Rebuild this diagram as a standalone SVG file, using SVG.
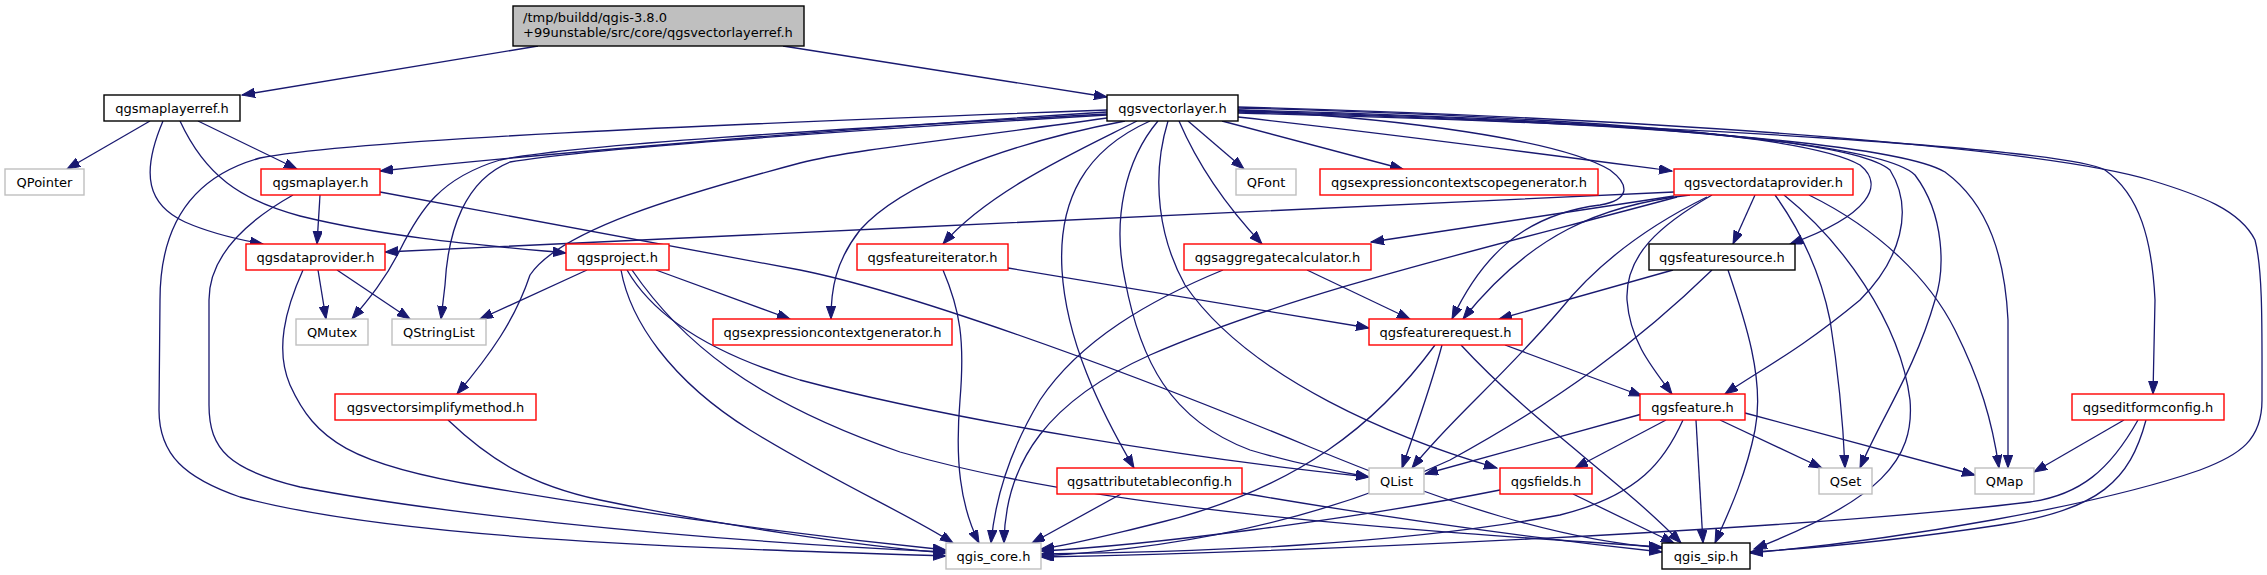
<svg xmlns="http://www.w3.org/2000/svg" width="2267" height="575" viewBox="0 0 2267 575">
<defs>
<marker id="ah" markerUnits="userSpaceOnUse" markerWidth="14" markerHeight="10" refX="13" refY="4.7" orient="auto">
<path d="M0,0 L13,4.7 L0,9.4 z" fill="#191970" stroke="#191970" stroke-width="1"/>
</marker>
</defs>
<style>
.n rect{fill:#fff;stroke-width:1.4}
.b rect{stroke:#000}
.r rect{stroke:#ff0000}
.g rect{stroke:#bfbfbf}
.rt rect{fill:#bfbfbf;stroke:#000}
text{font-family:"DejaVu Sans",Verdana,sans-serif;font-size:13px;fill:#000;text-anchor:middle}
.rt text{text-anchor:start}
#edges path{fill:none;stroke:#191970;stroke-width:1.3;marker-end:url(#ah)}
</style>
<rect width="2267" height="575" fill="#fff"/>
<g id="edges">
<path d="M538,46 L242,95"/>
<path d="M783,46 L1107,97"/>
<path d="M150,121 L67,169"/>
<path d="M198,121 L297,169"/>
<path d="M163,121 C140,175 148,205 185,222 C210,233 235,239 263,244"/>
<path d="M180,121 C205,175 240,200 300,216 C390,238 480,245 566,253"/>
<path d="M320,195 L317,244"/>
<path d="M293,195 C240,225 209,260 209,300 L209,405 C209,450 230,470 300,487 C420,510 650,538 946,552"/>
<path d="M380,192 L800,270 C900,290 1100,360 1310,447 C1450,505 1560,540 1662,548"/>
<path d="M318,270 L326,319"/>
<path d="M337,270 L410,319"/>
<path d="M303,270 C285,310 275,350 290,385 C315,440 350,465 485,487 C650,515 800,535 946,550"/>
<path d="M1107,110 C700,125 350,140 260,158 C180,180 160,240 160,300 L159,410 C159,455 185,478 240,497 C400,540 700,548 946,556"/>
<path d="M1107,112 C900,125 600,148 380,171"/>
<path d="M1107,114 C820,130 570,145 500,160 C440,178 420,210 400,250 C385,280 368,300 352,319"/>
<path d="M1107,115 C820,132 580,150 510,162 C465,180 448,230 445,285 L441,319"/>
<path d="M1107,118 C950,140 850,150 800,163 C680,195 560,230 530,275 C515,320 490,355 457,394"/>
<path d="M1125,121 C1000,145 900,185 860,230 C835,262 831,290 831,319"/>
<path d="M1137,121 C1080,150 990,190 943,244"/>
<path d="M1150,121 C1085,150 1058,200 1062,270 C1066,340 1100,410 1134,468"/>
<path d="M1158,121 C1125,160 1112,220 1125,280 C1140,360 1170,420 1250,450 C1300,465 1340,472 1369,477"/>
<path d="M1168,121 C1150,180 1160,240 1185,285 C1250,380 1400,440 1497,468"/>
<path d="M1179,121 C1200,170 1230,210 1262,244"/>
<path d="M1188,121 L1244,169"/>
<path d="M1222,121 L1403,169"/>
<path d="M1238,117 C1400,135 1550,155 1672,171"/>
<path d="M1238,110 C1400,118 1560,140 1610,170 C1630,185 1630,200 1600,205 C1520,215 1480,260 1452,319"/>
<path d="M1238,108 C1500,115 1800,130 1860,165 C1885,185 1870,215 1790,244"/>
<path d="M1238,110 C1550,118 1850,135 1890,170 C1915,210 1900,260 1860,300 C1800,350 1760,370 1725,394"/>
<path d="M1238,111 C1600,120 1880,140 1915,175 C1945,215 1945,270 1935,300 C1915,370 1880,420 1860,468"/>
<path d="M1238,112 C1650,122 1900,145 1945,172 C1990,205 2005,260 2008,320 L2008,468"/>
<path d="M1238,113 C1700,125 2070,150 2105,170 C2140,195 2152,240 2155,300 L2153,394"/>
<path d="M1238,107 C1700,120 2050,150 2150,180 C2200,195 2240,210 2255,240 C2263,270 2262,330 2262,400 C2262,440 2240,455 2200,470 C2100,505 1900,540 1750,553"/>
<path d="M1674,192 C1300,210 800,232 385,252"/>
<path d="M1674,196 L1371,242"/>
<path d="M1677,197 C1500,245 1300,290 1150,355 C1050,400 1005,460 1004,543"/>
<path d="M1690,195 C1600,205 1530,235 1463,319"/>
<path d="M1707,197 C1650,225 1600,260 1560,310 C1500,380 1450,420 1412,468"/>
<path d="M1712,195 C1660,225 1625,255 1627,300 C1630,340 1650,365 1672,394"/>
<path d="M1755,195 L1733,244"/>
<path d="M1775,195 C1800,230 1820,270 1830,320 C1838,370 1843,420 1845,468"/>
<path d="M1784,195 C1840,240 1900,320 1910,400 C1915,460 1880,500 1754,549"/>
<path d="M1809,195 C1880,230 1930,280 1955,330 C1980,380 1992,420 1999,468"/>
<path d="M1673,270 L1499,319"/>
<path d="M1712,270 C1640,340 1560,400 1450,460 C1300,530 1150,550 1041,556"/>
<path d="M1728,270 C1745,320 1765,380 1755,430 C1745,480 1725,520 1715,543"/>
<path d="M1435,345 C1380,420 1300,490 1150,525 C1100,537 1070,545 1041,549"/>
<path d="M1442,345 C1430,390 1415,430 1402,468"/>
<path d="M1505,345 L1642,396"/>
<path d="M1461,345 C1530,420 1620,480 1681,543"/>
<path d="M1642,414 L1425,474"/>
<path d="M1666,420 L1575,468"/>
<path d="M1683,420 C1665,460 1640,495 1560,515 C1400,545 1200,552 1041,554"/>
<path d="M1696,420 L1703,543"/>
<path d="M1720,420 L1822,468"/>
<path d="M1745,413 L1975,475"/>
<path d="M1500,490 C1350,520 1150,545 1041,551"/>
<path d="M1573,494 L1674,543"/>
<path d="M2124,420 L2034,472"/>
<path d="M2138,420 C2110,470 2080,495 2030,502 C1800,530 1300,552 1041,557"/>
<path d="M2146,420 C2130,480 2100,510 2000,525 C1900,540 1820,548 1750,552"/>
<path d="M1307,270 L1410,319"/>
<path d="M1223,270 C1150,300 1080,340 1040,400 C1010,450 995,500 991,543"/>
<path d="M1008,268 L1369,328"/>
<path d="M943,270 C960,310 965,340 960,400 C955,460 960,505 979,543"/>
<path d="M1121,494 L1032,543"/>
<path d="M1242,493 C1400,520 1550,540 1662,552"/>
<path d="M448,420 C490,460 530,485 600,500 C720,525 850,545 946,553"/>
<path d="M587,270 L480,319"/>
<path d="M656,270 L790,319"/>
<path d="M621,270 C630,320 670,380 750,430 C840,485 910,515 953,543"/>
<path d="M627,270 C650,310 700,350 800,380 C950,420 1200,460 1369,477"/>
<path d="M632,270 C680,340 750,400 900,452 C1100,510 1400,530 1662,547"/>
</g>
<g id="root" class="n rt"><rect x="513" y="6" width="291" height="40"/><text x="523" y="22">/tmp/buildd/qgis-3.8.0</text><text x="523" y="37">+99unstable/src/core/qgsvectorlayerref.h</text></g>
<g id="qgsmaplayerref" class="n b"><rect x="104" y="95" width="136" height="26"/><text x="172" y="112.5">qgsmaplayerref.h</text></g>
<g id="qgsvectorlayer" class="n b"><rect x="1107" y="95" width="131" height="26"/><text x="1172.5" y="112.5">qgsvectorlayer.h</text></g>
<g id="QPointer" class="n g"><rect x="5" y="169" width="79" height="26"/><text x="44.5" y="186.5">QPointer</text></g>
<g id="qgsmaplayer" class="n r"><rect x="261" y="169" width="119" height="26"/><text x="320.5" y="186.5">qgsmaplayer.h</text></g>
<g id="QFont" class="n g"><rect x="1236" y="169" width="60" height="26"/><text x="1266" y="186.5">QFont</text></g>
<g id="qgsexpressioncontextscopegenerator" class="n r"><rect x="1320" y="169" width="278" height="26"/><text x="1459" y="186.5">qgsexpressioncontextscopegenerator.h</text></g>
<g id="qgsvectordataprovider" class="n r"><rect x="1674" y="169" width="179" height="26"/><text x="1763.5" y="186.5">qgsvectordataprovider.h</text></g>
<g id="qgsdataprovider" class="n r"><rect x="246" y="244" width="139" height="26"/><text x="315.5" y="261.5">qgsdataprovider.h</text></g>
<g id="qgsproject" class="n r"><rect x="566" y="244" width="103" height="26"/><text x="617.5" y="261.5">qgsproject.h</text></g>
<g id="qgsfeatureiterator" class="n r"><rect x="857" y="244" width="151" height="26"/><text x="932.5" y="261.5">qgsfeatureiterator.h</text></g>
<g id="qgsaggregatecalculator" class="n r"><rect x="1184" y="244" width="187" height="26"/><text x="1277.5" y="261.5">qgsaggregatecalculator.h</text></g>
<g id="qgsfeaturesource" class="n b"><rect x="1649" y="244" width="146" height="26"/><text x="1722" y="261.5">qgsfeaturesource.h</text></g>
<g id="QMutex" class="n g"><rect x="296" y="319" width="72" height="26"/><text x="332" y="336.5">QMutex</text></g>
<g id="QStringList" class="n g"><rect x="392" y="319" width="94" height="26"/><text x="439" y="336.5">QStringList</text></g>
<g id="qgsexpressioncontextgenerator" class="n r"><rect x="713" y="319" width="239" height="26"/><text x="832.5" y="336.5">qgsexpressioncontextgenerator.h</text></g>
<g id="qgsfeaturerequest" class="n r"><rect x="1369" y="319" width="153" height="26"/><text x="1445.5" y="336.5">qgsfeaturerequest.h</text></g>
<g id="qgsvectorsimplifymethod" class="n r"><rect x="335" y="394" width="201" height="26"/><text x="435.5" y="411.5">qgsvectorsimplifymethod.h</text></g>
<g id="qgsfeature" class="n r"><rect x="1640" y="394" width="105" height="26"/><text x="1692.5" y="411.5">qgsfeature.h</text></g>
<g id="qgseditformconfig" class="n r"><rect x="2072" y="394" width="152" height="26"/><text x="2148" y="411.5">qgseditformconfig.h</text></g>
<g id="qgsattributetableconfig" class="n r"><rect x="1057" y="468" width="185" height="26"/><text x="1149.5" y="485.5">qgsattributetableconfig.h</text></g>
<g id="QList" class="n g"><rect x="1369" y="468" width="55" height="26"/><text x="1396.5" y="485.5">QList</text></g>
<g id="qgsfields" class="n r"><rect x="1500" y="468" width="92" height="26"/><text x="1546" y="485.5">qgsfields.h</text></g>
<g id="QSet" class="n g"><rect x="1819" y="468" width="53" height="26"/><text x="1845.5" y="485.5">QSet</text></g>
<g id="QMap" class="n g"><rect x="1975" y="468" width="59" height="26"/><text x="2004.5" y="485.5">QMap</text></g>
<g id="qgis_core" class="n g"><rect x="946" y="543" width="95" height="26"/><text x="993.5" y="560.5">qgis_core.h</text></g>
<g id="qgis_sip" class="n b"><rect x="1662" y="543" width="88" height="26"/><text x="1706" y="560.5">qgis_sip.h</text></g>
</svg>
